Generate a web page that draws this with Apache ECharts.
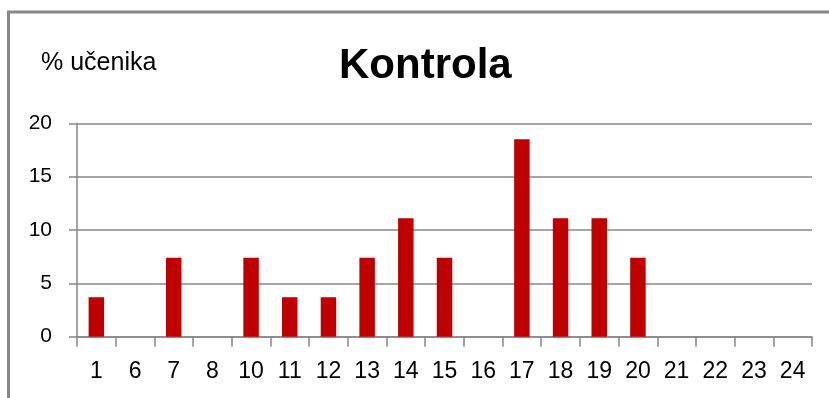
<!DOCTYPE html>
<html>
<head>
<meta charset="utf-8">
<script src="https://cdn.jsdelivr.net/npm/echarts@6/dist/echarts.min.js"></script>
<style>
  html, body { margin: 0; padding: 0; background: #fff; }
  #chart { width: 829px; height: 398px; }
</style>
</head>
<body>
<div id="chart"></div>
<script>
// Score categories (points) and share of pupils per score, in percent
const categories = ['1', '6', '7', '8', '10', '11', '12', '13', '14', '15', '16', '17', '18', '19', '20', '21', '22', '23', '24'];
const percentages = [3.7, 0, 7.4, 0, 7.4, 3.7, 3.7, 7.4, 11.1, 7.4, 0, 18.5, 11.1, 11.1, 7.4, 0, 0, 0, 0];
const yTicks = { min: 0, max: 20, interval: 5 };

const chartTitle = 'Kontrola';
const axisCaption = '% učenika';

const gray = '#878787';
const font = '"Liberation Sans", Arial, sans-serif';

const chart = echarts.init(document.getElementById('chart'), null, { renderer: 'canvas' });

chart.setOption({
  animation: false,
  backgroundColor: '#ffffff',
  title: [
    {
      text: chartTitle,
      left: 339,
      top: 45,
      padding: 0,
      textStyle: { fontFamily: font, fontSize: 42, fontWeight: 'bold', color: '#000' }
    },
    {
      text: axisCaption,
      left: 41,
      top: 51,
      padding: 0,
      textStyle: { fontFamily: font, fontSize: 25, fontWeight: 'normal', color: '#000' }
    }
  ],
  graphic: [
    {
      // outer chart frame (right and bottom edges fall outside the view)
      type: 'rect',
      silent: true,
      shape: { x: 8.5, y: 12, width: 900, height: 500 },
      style: { fill: 'none', stroke: gray, lineWidth: 3 }
    }
  ],
  grid: { left: 77, right: 17, top: 123.3, bottom: 61.3, containLabel: false },
  xAxis: {
    type: 'category',
    data: categories,
    boundaryGap: true,
    axisLine: { show: true, lineStyle: { color: gray, width: 1.5 } },
    axisTick: { show: true, alignWithLabel: false, length: 10, lineStyle: { color: gray, width: 1.5 } },
    axisLabel: { margin: 23, fontFamily: font, fontSize: 23, color: '#000', interval: 0 },
    splitLine: { show: false }
  },
  yAxis: {
    type: 'value',
    min: yTicks.min,
    max: yTicks.max,
    interval: yTicks.interval,
    axisLine: { show: true, lineStyle: { color: gray, width: 1.5 } },
    axisTick: { show: true, length: 8, lineStyle: { color: gray, width: 1.5 } },
    axisLabel: { margin: 25, fontFamily: font, fontSize: 21, color: '#000' },
    splitLine: { show: true, lineStyle: { color: gray, width: 1.5 } }
  },
  series: [
    {
      type: 'bar',
      data: percentages,
      barWidth: '40%',
      itemStyle: { color: '#C00000' }
    }
  ]
});
</script>
</body>
</html>
